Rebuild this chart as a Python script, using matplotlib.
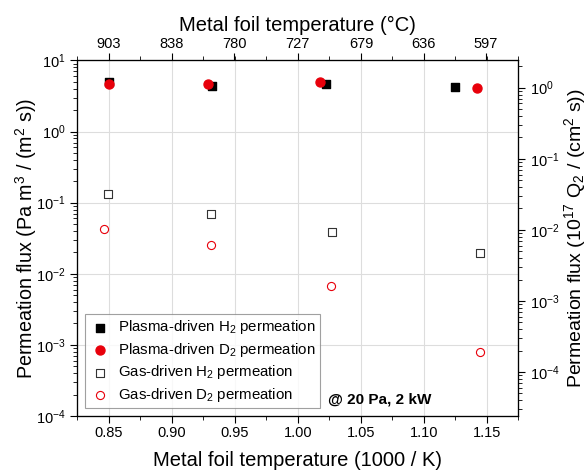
import numpy as np
import matplotlib
matplotlib.use('Agg')
import matplotlib.pyplot as plt
from matplotlib.ticker import LogLocator, MultipleLocator, NullFormatter

plt.rcParams['font.family'] = ['Liberation Sans', 'DejaVu Sans']
plt.rcParams['mathtext.fontset'] = 'custom'
plt.rcParams['mathtext.rm'] = 'Liberation Sans'
plt.rcParams['mathtext.it'] = 'Liberation Sans:italic'

# データ (x: 1000/K, y: Pa m3 / (m2 s))
plasma_h2_x = [0.8504, 0.9316, 1.0222, 1.1248]
plasma_h2_y = [4.93, 4.38, 4.63, 4.28]
plasma_d2_x = [0.8504, 0.9290, 1.0177, 1.1420]
plasma_d2_y = [4.67, 4.72, 4.99, 4.15]
gas_h2_x = [0.8496, 0.9313, 1.0272, 1.1449]
gas_h2_y = [0.134, 0.070, 0.0387, 0.0194]
gas_d2_x = [0.8459, 0.9313, 1.0262, 1.1449]
gas_d2_y = [0.0431, 0.0254, 0.00673, 0.000787]

top_temps = [903, 838, 780, 727, 679, 636, 597]
conv = 0.2414  # Pa m3/(m2 s) -> 1e17 Q2/(cm2 s)

fig = plt.figure(figsize=(5.87, 4.74), dpi=100)
ax = fig.add_axes([0.1317, 0.1224, 0.883 - 0.1317, 0.8724 - 0.1224])

ax.scatter(plasma_h2_x, plasma_h2_y, marker='s', s=36, color='black', zorder=3,
           label='Plasma-driven H$_2$ permeation')
ax.scatter(plasma_d2_x, plasma_d2_y, marker='o', s=42, color='#e8000b', zorder=3,
           label='Plasma-driven D$_2$ permeation')
ax.scatter(gas_h2_x, gas_h2_y, marker='s', s=30, facecolor='white', edgecolor='#333333',
           linewidth=0.8, zorder=3, label='Gas-driven H$_2$ permeation')
ax.scatter(gas_d2_x, gas_d2_y, marker='o', s=34, facecolor='white', edgecolor='#e8000b',
           linewidth=0.8, zorder=3, label='Gas-driven D$_2$ permeation')

ax.set_xlim(0.825, 1.175)
ax.set_yscale('log')
ax.set_ylim(1e-4, 1e1)
ax.xaxis.set_minor_locator(MultipleLocator(0.025))
ax.set_xticks(np.arange(0.85, 1.151, 0.05))
ax.set_xticklabels(['%.2f' % v for v in np.arange(0.85, 1.151, 0.05)])
ax.yaxis.set_minor_locator(LogLocator(base=10, subs=np.arange(2, 10), numticks=20))
ax.yaxis.set_minor_formatter(NullFormatter())
ax.grid(True, which='major', color='#dddddd', linewidth=0.8, zorder=0)
ax.set_axisbelow(True)
ax.tick_params(axis='both', which='major', direction='out', length=5, labelsize=10.5)
ax.tick_params(axis='x', which='major', pad=2)
ax.tick_params(axis='both', which='minor', direction='out', length=3)
ax.set_xlabel('Metal foil temperature (1000 / K)', fontsize=14.5, labelpad=8)
ax.set_ylabel('Permeation flux (Pa m$^3$ / (m$^2$ s))', fontsize=14.2, labelpad=-2)

# 上の軸 (°C)
axt = ax.twiny()
axt.set_xlim(ax.get_xlim())
axt.set_xticks([1000 / (t + 273.15) for t in top_temps])
axt.set_xticklabels([str(t) for t in top_temps])
axt.xaxis.set_minor_locator(MultipleLocator(0.025))
axt.tick_params(axis='x', which='major', direction='out', length=5, labelsize=10.5, pad=2)
axt.tick_params(axis='x', which='minor', direction='out', length=3)
axt.set_xlabel('Metal foil temperature (°C)', fontsize=14.5, labelpad=4.5)

# 右の軸
axr = ax.twinx()
axr.set_yscale('log')
axr.set_ylim(1e-4 * conv, 1e1 * conv)
axr.yaxis.set_minor_locator(LogLocator(base=10, subs=np.arange(2, 10), numticks=20))
axr.yaxis.set_minor_formatter(NullFormatter())
axr.tick_params(axis='y', which='major', direction='out', length=5, labelsize=10.5)
axr.tick_params(axis='y', which='minor', direction='out', length=3)
axr.set_ylabel('Permeation flux (10$^{17}$ Q$_2$ / (cm$^2$ s))', fontsize=14, labelpad=1.5)

leg = ax.legend(loc='lower left', fontsize=10.8, frameon=True, fancybox=False,
                edgecolor='#888888', handletextpad=0.5, borderaxespad=0.5,
                labelspacing=0.3, handlelength=1.4, borderpad=0.3)
leg.get_frame().set_linewidth(0.8)

ax.text(0.568, 0.045, '@ 20 Pa, 2 kW', transform=ax.transAxes, fontsize=11,
        fontweight='bold', va='center', ha='left')

fig.savefig('out.png', dpi=100)
